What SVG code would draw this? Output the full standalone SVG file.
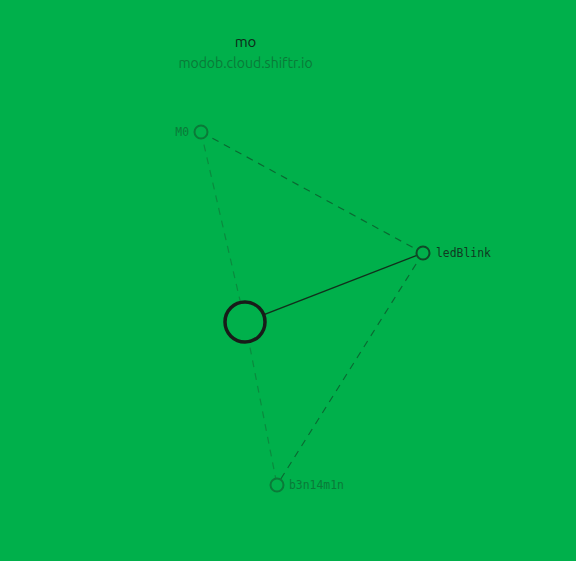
<svg xmlns="http://www.w3.org/2000/svg" width="576" height="561" viewBox="0 0 576 561">
<style>
.lbl{font-family:"DejaVu Sans Mono","Liberation Mono",monospace;font-size:11.4px}
.dim{fill:#0a7a38}
.dark{fill:#103a22}
.dash{fill:none;stroke-dasharray:7 6;stroke-width:1.2}
</style>
<rect width="576" height="561" fill="#00b04b"/>
<g id="title">
<text x="245.5" y="47" text-anchor="middle" font-family="Ubuntu,'Noto Sans',sans-serif" font-size="15" fill="#0e2a18">mo</text>
<text x="245.5" y="68" text-anchor="middle" font-family="Ubuntu,'Noto Sans',sans-serif" font-size="14" fill="#0a7a38">modob.cloud.shiftr.io</text>
</g>
<g id="connectors">
<line class="dash" x1="201" y1="132" x2="423" y2="253" stroke="#0a6a32"/>
<line class="dash" x1="201" y1="132" x2="245" y2="322" stroke="#0a8a3e"/>
<line class="dash" x1="245" y1="322" x2="277" y2="485" stroke="#0a8a3e"/>
<line class="dash" x1="423" y1="253" x2="277" y2="485" stroke="#0a6a32"/>
<line x1="245" y1="322" x2="423" y2="253" stroke="#11301c" stroke-width="1.3"/>
</g>
<g id="broker">
<circle cx="245" cy="322" r="20" fill="#00b04b" stroke="#181c19" stroke-width="3.5"/>
</g>
<g id="M0">
<circle cx="201" cy="132" r="6.5" fill="#00b04b" stroke="#0a7a38" stroke-width="2"/>
<text class="lbl dim" x="189" y="136" text-anchor="end">M0</text>
</g>
<g id="ledBlink">
<circle cx="423" cy="253" r="6.5" fill="#00b04b" stroke="#0f4a28" stroke-width="2"/>
<text class="lbl dark" x="436" y="257">ledBlink</text>
</g>
<g id="b3n14m1n">
<circle cx="277" cy="485" r="6.5" fill="#00b04b" stroke="#0a7a38" stroke-width="2"/>
<text class="lbl dim" x="289" y="489">b3n14m1n</text>
</g>
</svg>
